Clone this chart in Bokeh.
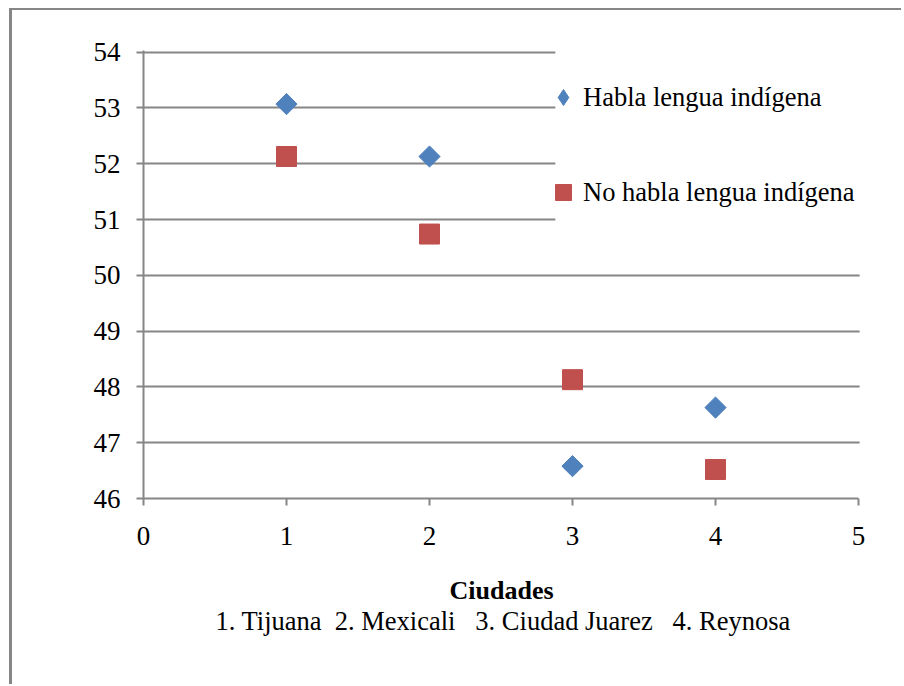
import numpy as np
from bokeh.plotting import figure
from bokeh.models import (Range1d, FixedTicker, BoxAnnotation, Legend, LegendItem,
                          Title, ColumnDataSource)
from bokeh.embed import file_html
from bokeh.resources import INLINE

# ---- data ----
ciudades = [1, 2, 3, 4]
habla = [53.07, 52.13, 46.58, 47.63]
no_habla = [52.13, 50.74, 48.13, 46.52]
series_names = ["Habla lengua indígena", "No habla lengua indígena"]
x_ticks = [0, 1, 2, 3, 4, 5]
y_ticks = [46, 47, 48, 49, 50, 51, 52, 53, 54]
x_title = "Ciudades"
x_subtitle = "1. Tijuana \u00a02. Mexicali \u00a0\u00a03. Ciudad Juarez \u00a0\u00a04. Reynosa"

BLUE = "#4F81BD"
RED = "#C0504D"
GRAY = "#868686"
FONT = "Liberation Serif"
FS = "27px"

# frame spans page x 143..904; value 5 sits at page x 858 (143 px per unit)
p = figure(width=892, height=676, output_backend="svg", toolbar_location=None,
           x_range=Range1d(0, 5 + 46 / 143), y_range=Range1d(46, 54.03),
           min_border_left=131, min_border_right=0, min_border_top=40,
           min_border_bottom=188)
p.outline_line_color = None
p.styles = {"margin-left": "9px", "margin-top": "8px",
            "border-left": "3px solid #868686", "border-top": "2px solid #868686"}

# axes
for ax in (p.xaxis[0], p.yaxis[0]):
    ax.axis_line_color = GRAY
    ax.axis_line_width = 2
    ax.major_tick_line_color = GRAY
    ax.major_tick_line_width = 2
    ax.major_tick_out = 7
    ax.major_tick_in = 0
    ax.minor_tick_line_color = None
    ax.major_label_text_font = FONT
    ax.major_label_text_font_size = FS
    ax.major_label_text_color = "#000000"

p.xaxis.bounds = (0, 5)
p.xaxis.ticker = FixedTicker(ticks=x_ticks)
p.yaxis.ticker = FixedTicker(ticks=y_ticks)
p.xaxis.major_label_standoff = 21
p.yaxis.major_label_standoff = 16

p.xgrid.grid_line_color = None
p.ygrid.grid_line_color = GRAY
p.ygrid.grid_line_width = 2

# data
src = ColumnDataSource(dict(x=ciudades, h=habla, n=no_habla))
r1 = p.scatter("x", "h", source=src, marker="square", angle=np.pi / 4, size=15,
               fill_color=BLUE, line_color=BLUE)
r2 = p.scatter("x", "n", source=src, marker="square", size=20,
               fill_color=RED, line_color=RED)
# same series drawn as a diamond only for the legend swatch
r1_leg = p.scatter("x", "h", source=src, marker="diamond", size=15,
                   fill_color=BLUE, line_color=BLUE, visible=False)

# white areas: behind legend, and right of x = 5
cover = BoxAnnotation(left=2.88, right=6, top=54.2, bottom=50.55,
                      fill_color="white", fill_alpha=1.0, line_color=None)
cover2 = BoxAnnotation(left=5.008, right=6, top=55, bottom=45,
                       fill_color="white", fill_alpha=1.0, line_color=None)
p.add_layout(cover)
p.add_layout(cover2)

legend = Legend(items=[LegendItem(label=series_names[0], renderers=[r1_leg]),
                       LegendItem(label=series_names[1], renderers=[r2])],
                location=(400, 286), padding=5, spacing=55,
                glyph_width=40, glyph_height=40, label_height=26,
                label_standoff=0, background_fill_alpha=0,
                border_line_color=None, label_text_font=FONT,
                label_text_font_size="26.5px", label_text_color="#000000")
p.add_layout(legend)

t1 = Title(text=x_title, align="left", offset=306, vertical_align="top",
           text_font=FONT, text_font_size="26px", text_font_style="bold",
           text_color="#000000", standoff=56)
t2 = Title(text=x_subtitle, align="left", offset=72, vertical_align="top",
           text_font=FONT, text_font_size="26.5px", text_font_style="normal",
           text_color="#000000", standoff=-58)
p.add_layout(t1, "below")
p.add_layout(t2, "below")

open("out.html", "w").write(file_html(p, INLINE))
